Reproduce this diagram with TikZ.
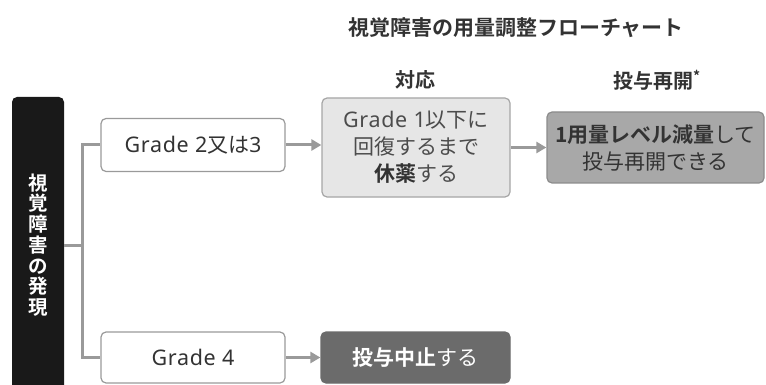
\documentclass[tikz,border=0pt]{standalone}
\usepackage{fontspec}
\setmainfont{Noto Sans CJK JP}[BoldFont={Noto Sans CJK JP Bold}]
\newfontfamily\latinface{Noto Sans}[LetterSpace=3]
\usetikzlibrary{positioning,arrows.meta}

\definecolor{inkdark}{HTML}{333333}
\definecolor{linegray}{HTML}{9A9A9A}
\definecolor{restfill}{HTML}{E6E6E6}
\definecolor{restline}{HTML}{A6A6A6}
\definecolor{resumefill}{HTML}{A8A8A8}
\definecolor{resumeline}{HTML}{8C8C8C}
\definecolor{stopfill}{HTML}{6B6B6B}

\newcommand{\grd}[1]{{\latinface\fontsize{21.5}{27}\selectfont Grade #1}}

\begin{document}
\begin{tikzpicture}[
    x=1pt, y=-1pt,
    every node/.style={align=center, inner sep=0pt, text=inkdark},
    box/.style={rectangle, draw=linegray, line width=1.2pt, rounded corners=5pt,
        fill=white, font=\fontsize{21}{27}\selectfont},
    head/.style={font=\fontsize{20}{24}\selectfont\bfseries},
    link/.style={draw=linegray, line width=3pt},
    flow/.style={link, -{Triangle[length=10pt,width=11pt]}}
]
\useasboundingbox (0,0) rectangle (766,385);

% title and column heads
\node[head, font=\fontsize{21}{24}\selectfont\bfseries] (title) at (516,28) {視覚障害の用量調整フローチャート};
\node[head] (colact) at (415,80) {対応};
\node[head] (colres) at (657,80) {投与再開\raisebox{-1pt}{\textsuperscript{*}}};

% onset
\node[rectangle, fill=black!90, rounded corners=5pt, minimum width=52pt, minimum height=296pt,
    text=white, font=\fontsize{19.5}{20.7}\selectfont\bfseries] (onset) at (38,245)
    {視\\覚\\障\\害\\の\\発\\現};

% grades
\node[box, minimum width=184pt, minimum height=53pt] (gradeA) at (193,145) {\grd{2}又は{\latinface 3}};
\node[box, minimum width=184pt, minimum height=51pt] (gradeB) at (193,357.5) {\grd{4}};

% actions
\node[box, draw=restline, fill=restfill, minimum width=188pt, minimum height=99pt, text=black!70] (rest) at (416,147.5)
    {\grd{1}以下に\\回復するまで\\{\color{inkdark}\bfseries 休薬}する};
\node[box, draw=resumeline, fill=resumefill, minimum width=217pt, minimum height=71pt] (resume) at (655.5,147.5)
    {{\bfseries 1用量レベル減量}して\\投与再開できる};
\node[box, draw=stopfill, fill=stopfill, minimum width=189pt, minimum height=51pt, text=white] (stop) at (415.5,357.5)
    {{\bfseries 投与中止}する};

% connectors
\coordinate (fork) at (82,245);
\draw[link] (onset.east) -- (fork);
\draw[link] (gradeA.west) -| (fork) |- (gradeB.west);
\draw[flow] (gradeA.east) -- (rest.west |- gradeA.east);
\draw[flow] (rest.east) -- (resume.west);
\draw[flow] (gradeB.east) -- (stop.west);
\end{tikzpicture}
\end{document}
